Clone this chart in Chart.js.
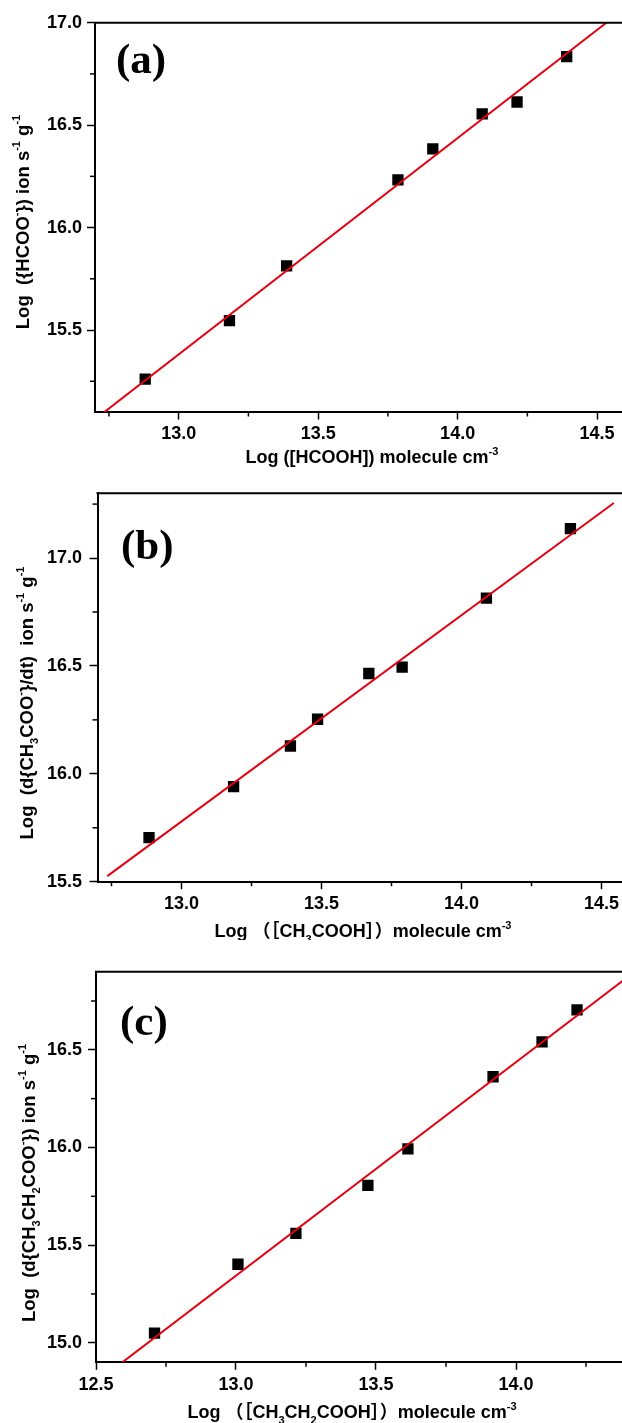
<!DOCTYPE html>
<html><head><meta charset="utf-8">
<script src="https://cdn.jsdelivr.net/npm/chart.js@4.4.1/dist/chart.umd.min.js"></script>
<style>
html,body{margin:0;padding:0;background:#fff;overflow:hidden;width:622px;height:1423px;position:relative;}
canvas{position:absolute;left:0;}
</style></head><body>
<canvas id="ca" width="680" height="470" style="top:0px"></canvas>
<canvas id="cb" width="680" height="470" style="top:470px"></canvas>
<canvas id="cc" width="680" height="483" style="top:940px"></canvas>
<script>
// ---------- data: panel (a) HCOOH ----------
const xA = [12.88, 13.182, 13.387, 13.786, 13.911, 14.088, 14.213, 14.391];
const yA = [15.26, 15.546, 15.813, 16.233, 16.384, 16.555, 16.613, 16.834];
const fitXA = [12.73, 14.54];
const fitYA = [15.096, 17.007];
const xTicksA = [13.0, 13.5, 14.0, 14.5];
const xMinorA = [12.75, 13.25, 13.75, 14.25];
const yTicksA = [15.5, 16.0, 16.5, 17.0];
const yMinorA = [15.25, 15.75, 16.25, 16.75];

// ---------- data: panel (b) CH3COOH ----------
const xB = [12.884, 13.186, 13.389, 13.486, 13.669, 13.788, 14.089, 14.389];
const yB = [15.704, 15.941, 16.129, 16.253, 16.465, 16.494, 16.814, 17.136];
const fitXB = [12.735, 14.544];
const fitYB = [15.526, 17.255];
const xTicksB = [13.0, 13.5, 14.0, 14.5];
const xMinorB = [12.75, 13.25, 13.75, 14.25];
const yTicksB = [15.5, 16.0, 16.5, 17.0];
const yMinorB = [15.75, 16.25, 16.75, 17.25];

// ---------- data: panel (c) CH3CH2COOH ----------
const xC = [12.709, 13.007, 13.214, 13.471, 13.614, 13.918, 14.093, 14.218];
const yC = [15.049, 15.402, 15.56, 15.806, 15.993, 16.362, 16.541, 16.705];
const fitXC = [12.594, 14.40];
const fitYC = [14.9, 16.874];
const xTicksC = [12.5, 13.0, 13.5, 14.0];
const xMinorC = [12.75, 13.25, 13.75, 14.25];
const yTicksC = [15.0, 15.5, 16.0, 16.5];
const yMinorC = [15.25, 15.75, 16.25, 16.75];

// ---------- text ----------
const FONT = "'Liberation Sans', Arial, 'Noto Sans CJK SC', sans-serif";
const xTitleA = [['Log ([HCOOH]) molecule cm',''],['-3','sup']];
const yTitleA = [['Log  ({HCOO',''],['-','sup'],['}) ion s',''],['-1','sup'],[' g',''],['-1','sup']];
const xTitleB = [['Log （［CH',''],['3','sub'],['COOH］）molecule cm',''],['-3','sup']];
const yTitleB = [['Log  (d{CH',''],['3','sub'],['COO',''],['-','sup'],['}/dt)  ion s',''],['-1','sup'],[' g',''],['-1','sup']];
const xTitleC = [['Log （［CH',''],['3','sub'],['CH',''],['2','sub'],['COOH］）molecule cm',''],['-3','sup']];
const yTitleC = [['Log  (d{CH',''],['3','sub'],['CH',''],['2','sub'],['COO',''],['-','sup'],['}) ion s',''],['-1','sup'],[' g',''],['-1','sup']];

function drawRich(ctx, segs, cx, cy, rotate, size) {
  ctx.save();
  ctx.translate(cx, cy);
  if (rotate) ctx.rotate(-Math.PI / 2);
  const main = 'bold ' + size + 'px ' + FONT;
  const small = 'bold ' + Math.round(size * 0.62) + 'px ' + FONT;
  let total = 0;
  const widths = segs.map(([t, k]) => { ctx.font = k ? small : main; const w = ctx.measureText(t).width; total += w; return w; });
  let x = -total / 2;
  ctx.textBaseline = 'alphabetic';
  ctx.textAlign = 'left';
  ctx.fillStyle = '#000';
  const base = size * 0.36;
  segs.forEach(([t, k], i) => {
    ctx.font = k ? small : main;
    let dy = 0;
    if (k === 'sup') dy = -size * 0.45;
    if (k === 'sub') dy = size * 0.28;
    ctx.fillText(t, x, base + dy);
    x += widths[i];
  });
  ctx.restore();
}

const panelPlugin = {
  id: 'panel',
  afterDraw(chart, args, o) {
    const ctx = chart.ctx, a = chart.chartArea, sx = chart.scales.x, sy = chart.scales.y;
    ctx.save();
    ctx.strokeStyle = '#000';
    ctx.lineWidth = 2;
    ctx.beginPath();
    ctx.moveTo(a.left - 1, a.top);
    ctx.lineTo(a.right, a.top);
    ctx.lineTo(a.right, a.bottom);
    ctx.stroke();
    ctx.lineWidth = 1.5;
    o.xMinor.forEach(v => {
      const p = sx.getPixelForValue(v);
      ctx.beginPath(); ctx.moveTo(p, a.bottom); ctx.lineTo(p, a.bottom + 4.5); ctx.stroke();
    });
    o.yMinor.forEach(v => {
      const p = sy.getPixelForValue(v);
      ctx.beginPath(); ctx.moveTo(a.left, p); ctx.lineTo(a.left - 5, p); ctx.stroke();
    });
    ctx.fillStyle = '#000';
    ctx.font = "bold 43px 'Liberation Serif', 'Times New Roman', serif";
    ctx.textBaseline = 'middle';
    ctx.textAlign = 'left';
    ctx.fillText(o.tag, o.tagX, o.tagY);
    ctx.restore();
    drawRich(ctx, o.xTitle, o.xTitleX, o.xTitleY, false, 18);
    drawRich(ctx, o.yTitle, o.yTitleX, o.yTitleY, true, 18.5);
  }
};

function makeChart(id, c) {
  const canvas = document.getElementById(id);
  const H = canvas.height, W = canvas.width;
  const tickFont = { family: FONT, size: 18, weight: 'bold' };
  return new Chart(canvas, {
    type: 'scatter',
    data: { datasets: [
      { data: c.fitX.map((x, i) => ({ x: x, y: c.fitY[i] })), showLine: true, borderColor: '#e6000f', borderWidth: 2, pointRadius: 0, fill: false },
      { data: c.x.map((x, i) => ({ x: x, y: c.y[i] })), showLine: false, pointStyle: 'rect', pointRadius: 8, backgroundColor: '#000', borderColor: '#000', borderWidth: 0 }
    ] },
    options: {
      responsive: false, animation: false, devicePixelRatio: 1,
      layout: { padding: { top: c.top, right: W - c.right, bottom: 0, left: 0 } },
      plugins: {
        legend: { display: false }, tooltip: { enabled: false },
        panel: c.panel
      },
      scales: {
        x: {
          type: 'linear', position: 'bottom', min: c.xMin, max: c.xMax,
          afterBuildTicks: s => { s.ticks = c.xTicks.map(v => ({ value: v })); },
          afterFit: s => { s.height = H - c.bottom; },
          grid: { drawOnChartArea: false, drawTicks: true, tickLength: 7.5, tickWidth: 1.5, tickColor: '#000' },
          border: { display: true, color: '#000', width: 2 },
          ticks: { color: '#000', font: tickFont, padding: 4, autoSkip: false, maxRotation: 0, callback: v => Number(v).toFixed(1) },
          title: { display: false }
        },
        y: {
          type: 'linear', position: 'left', min: c.yMin, max: c.yMax,
          afterBuildTicks: s => { s.ticks = c.yTicks.map(v => ({ value: v })); },
          afterFit: s => { s.width = c.left; },
          grid: { drawOnChartArea: false, drawTicks: true, tickLength: 8, tickWidth: 1.5, tickColor: '#000' },
          border: { display: true, color: '#000', width: 2 },
          ticks: { color: '#000', font: tickFont, padding: c.left - 8 - 82, autoSkip: false, callback: v => Number(v).toFixed(1) },
          title: { display: false }
        }
      }
    },
    plugins: [panelPlugin]
  });
}

makeChart('ca', {
  x: xA, y: yA, fitX: fitXA, fitY: fitYA, xTicks: xTicksA, yTicks: yTicksA,
  xMin: 12.7, xMax: 14.6, yMin: 15.1, yMax: 17.0,
  left: 95, right: 625, top: 22.7, bottom: 412,
  panel: { xMinor: xMinorA, yMinor: yMinorA, tag: '(a)', tagX: 116, tagY: 62,
    xTitle: xTitleA, xTitleX: 372, xTitleY: 457, yTitle: yTitleA, yTitleX: 22, yTitleY: 222 }
});
makeChart('cb', {
  x: xB, y: yB, fitX: fitXB, fitY: fitYB, xTicks: xTicksB, yTicks: yTicksB,
  xMin: 12.7, xMax: 14.6, yMin: 15.5, yMax: 17.3,
  left: 97.5, right: 629.5, top: 23.3, bottom: 411.7,
  panel: { xMinor: xMinorB, yMinor: yMinorB, tag: '(b)', tagX: 121, tagY: 78,
    xTitle: xTitleB, xTitleX: 363, xTitleY: 461, yTitle: yTitleB, yTitleX: 26, yTitleY: 233 }
});
makeChart('cc', {
  x: xC, y: yC, fitX: fitXC, fitY: fitYC, xTicks: xTicksC, yTicks: yTicksC,
  xMin: 12.5, xMax: 14.4, yMin: 14.9, yMax: 16.9,
  left: 96, right: 628, top: 31.7, bottom: 422.3,
  panel: { xMinor: xMinorC, yMinor: yMinorC, tag: '(c)', tagX: 120, tagY: 84,
    xTitle: xTitleC, xTitleX: 352, xTitleY: 472, yTitle: yTitleC, yTitleX: 28, yTitleY: 243 }
});
</script>
</body></html>
